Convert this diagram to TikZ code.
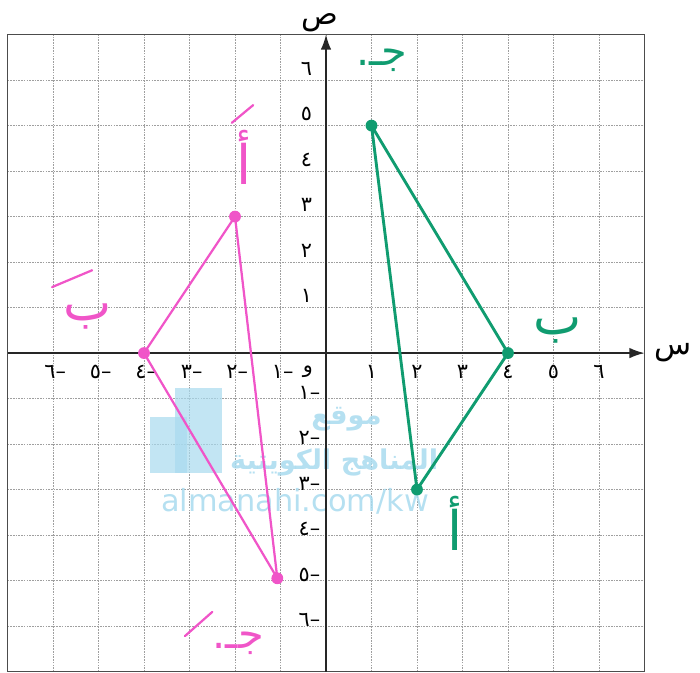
\documentclass[tikz,border=0pt]{standalone}
\usepackage{fontspec}
\setmainfont{DejaVu Sans}
\newfontfamily\ar[Script=Arabic]{DejaVu Sans}
\TeXXeTstate=1
\usetikzlibrary{arrows.meta}
\definecolor{grn}{HTML}{109C70}
\definecolor{pnk}{HTML}{F055C8}
\definecolor{wm}{HTML}{A8DAEE}
\tikzset{
  gridline/.style={gray!75, line width=0.5pt, dash pattern=on 1pt off 0.7pt},
  frame/.style={black!70, line width=1pt},
  axis/.style={black!85, line width=1pt, -{Latex[length=3.3mm,width=2.3mm]}},
  tick/.style={font=\ar\fontsize{13}{13}\selectfont, inner sep=0pt},
  axlabel/.style={font=\ar\fontsize{19}{19}\selectfont, inner sep=0pt},
  gtri/.style={grn, line width=1.8pt, line join=round},
  ptri/.style={pnk, line width=1.4pt, line join=round},
  gdot/.style={circle, fill=grn, inner sep=0pt, minimum size=2.6mm},
  pdot/.style={circle, fill=pnk, inner sep=0pt, minimum size=2.6mm},
  glab/.style={grn, font=\ar\fontsize{26}{26}\selectfont, inner sep=0pt},
  plab/.style={pnk, font=\ar\fontsize{26}{26}\selectfont, inner sep=0pt},
  biglab/.style={font=\ar\fontsize{34}{34}\selectfont},
  blab/.style={font=\ar\fontsize{32}{32}\selectfont},
  primeg/.style={pnk, line width=1.4pt, line cap=round},
  wmtext/.style={wm, inner sep=0pt, opacity=0.85},
}
\begin{document}
\begin{tikzpicture}
\useasboundingbox (-7.165,-7.03) rectangle (8.22,7.76);
% grid and frame
\draw[gridline] (-7,-7) grid (7,7);
\draw[frame] (-7,-7) rectangle (7,7);
% watermark
\fill[wm, opacity=0.7] (-3.32,-0.77) rectangle (-2.29,-2.64);
\fill[wm, opacity=0.7] (-3.87,-1.41) rectangle (-3.05,-2.64);
\node[wmtext, font=\ar\bfseries\fontsize{17}{17}\selectfont] (wm1) at (0.45,-1.45) {\beginR موقع\endR};
\node[wmtext, font=\ar\bfseries\fontsize{17}{17}\selectfont] (wm2) at (0.18,-2.4) {\beginR المناهج الكويتية\endR};
\node[wmtext, font=\fontsize{19}{19}\selectfont] (wm3) at (-0.68,-3.26) {almanahi.com/kw};
% axes
\coordinate (xl) at (-7,0);
\coordinate (xr) at (7,0);
\coordinate (yb) at (0,-7);
\coordinate (yt) at (0,7);
\draw[axis] (xl) -- (xr);
\draw[axis] (yb) -- (yt);
\node[axlabel] (xlab) at (7.63,0.02) {س};
\node[axlabel] (ylab) at (-0.13,7.25) {ص};
% ticks
\foreach \i/\d in {1/١,2/٢,3/٣,4/٤,5/٥,6/٦}{
  \node[tick] at (\i,-0.42) {\d};
  \node[tick] at (-\i+0.05,-0.42) {–\d};
  \node[tick, anchor=east] at (-0.3,\i+0.25) {\d};
  \node[tick, anchor=east] at (-0.12,-\i+0.13) {–\d};
}
\node[tick] (orig) at (-0.4,-0.42) {و};
% green triangle
\node[gdot] (gA) at (2,-3) {};
\node[gdot] (gB) at (4,0) {};
\node[gdot] (gC) at (1,5) {};
\draw[gtri] (gC.center) -- (gB.center) -- (gA.center) -- cycle;
\node[glab] (lgC) at (1.23,6.44) {جـ.};
\node[glab, blab] (lgB) at (5.1,0.5) {ب};
\node[glab, biglab] (lgA) at (2.84,-3.75) {أ};
% pink triangle
\node[pdot] (pA) at (-2,3) {};
\node[pdot] (pB) at (-4,0) {};
\node[pdot] (pC) at (-1.07,-4.95) {};
\draw[ptri] (pA.center) -- (pB.center) -- (pC.center) -- cycle;
\node[plab, biglab] (lpA) at (-1.8,4.3) {أ};
\node[plab, blab] (lpB) at (-5.23,0.8) {ب};
\node[plab] (lpC) at (-1.93,-6.37) {جـ.};
\coordinate (qa1) at (-2.07,5.06); \coordinate (qa2) at (-1.6,5.45);
\coordinate (qb1) at (-6.02,1.45); \coordinate (qb2) at (-5.14,1.82);
\coordinate (qc1) at (-3.1,-6.22); \coordinate (qc2) at (-2.5,-5.69);
\draw[primeg] (qa1) -- (qa2);
\draw[primeg] (qb1) -- (qb2);
\draw[primeg] (qc1) -- (qc2);
\end{tikzpicture}
\end{document}
